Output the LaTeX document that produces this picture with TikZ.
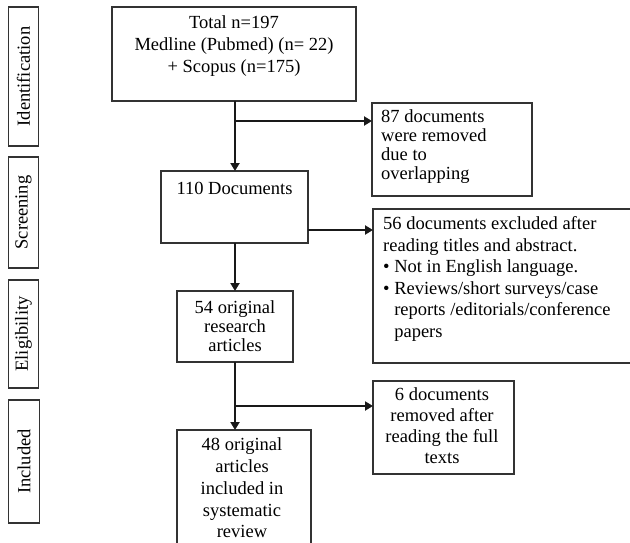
\documentclass[tikz,border=0pt]{standalone}
\usepackage{fontspec}
\setmainfont{Liberation Serif}
\usetikzlibrary{arrows.meta}
\tikzset{
  box/.style={draw=black!80, line width=1.4pt, inner sep=0pt, outer sep=0pt, rectangle},
  txt/.style={inner sep=0pt, font=\fontsize{18.5}{21}\selectfont, text=black},
  side/.style={txt, rotate=90},
  arr/.style={line width=2.9pt, draw=black!90, -{Triangle[length=8pt,width=9pt]}}
}
\begin{document}
\begin{tikzpicture}[x=1pt,y=-1pt]
\clip (0,0) rectangle (630,543);
% side labels
\node[box, minimum width=30pt, minimum height=139pt] (sid) at (23.5,76.5) {};
\node[side] (tid) at (sid.center) {Identification};
\node[box, minimum width=30pt, minimum height=111pt] (ssc) at (23.5,212.5) {};
\node[side] (tsc) at (ssc.center) {Screening};
\node[box, minimum width=30pt, minimum height=108pt] (sel) at (23.5,334) {};
\node[side] (tel) at (sel.center) {Eligibility};
\node[box, minimum width=31pt, minimum height=123pt] (sin) at (24,461.5) {};
\node[side] (tin) at (sin.center) {Included};
% main boxes
\node[box, minimum width=244pt, minimum height=94pt] (b1) at (234,54) {};
\node[txt, align=center, font=\fontsize{18.5}{22}\selectfont] (t1) at (234,46) {Total n=197\\Medline (Pubmed) (n= 22)\\+ Scopus (n=175)};
\node[box, minimum width=160pt, minimum height=93pt] (b87) at (452,149.5) {};
\node[txt, align=left, anchor=west, font=\fontsize{18.5}{19}\selectfont] (t87) at (381,147) {87 documents\\were removed\\due to\\overlapping};
\node[box, minimum width=147pt, minimum height=72pt] (b2) at (234.5,207) {};
\node[txt] (t2) at (234.5,188) {110 Documents};
\node[box, minimum width=267pt, minimum height=154pt] (b56) at (506.5,286) {};
\node[txt, align=left, anchor=west, font=\fontsize{18.5}{21.6}\selectfont] (t56) at (383,279) {56 documents excluded after\\reading titles and abstract.\\\textbullet\ Not in English language.\\\textbullet\ Reviews/short surveys/case\\\hphantom{\textbullet\ }reports /editorials/conference\\\hphantom{\textbullet\ }papers};
\node[box, minimum width=116pt, minimum height=71pt] (b54) at (235,326.5) {};
\node[txt, align=center, font=\fontsize{18.5}{19}\selectfont] (t54) at (235,326) {54 original\\research\\articles};
\node[box, minimum width=141pt, minimum height=93pt] (b6) at (443.5,427.5) {};
\node[txt, align=center, font=\fontsize{18.5}{21}\selectfont] (t6) at (442,426) {6 documents\\removed after\\reading the full\\texts};
\node[box, minimum width=134pt, minimum height=120pt] (b48) at (244,490) {};
\node[txt, align=center, font=\fontsize{18.5}{21.7}\selectfont] (t48) at (242,488) {48 original\\articles\\included in\\systematic\\review};
% connectors
\coordinate (j1) at (235,121);
\coordinate (j2) at (235,406);
\draw[arr] (b1.south -| j1) -- (b2.north -| j1);
\draw[arr] (j1) -- (j1 -| b87.west);
\draw[arr] (b2.south -| j1) -- (b54.north -| j1);
\draw[arr] ([yshift=-23pt]b2.east) -- ([yshift=-23pt]b2.east -| b56.west);
\draw[arr] (b54.south -| j2) -- (b48.north -| j2);
\draw[arr] (j2) -- (j2 -| b6.west);
\end{tikzpicture}
\end{document}
